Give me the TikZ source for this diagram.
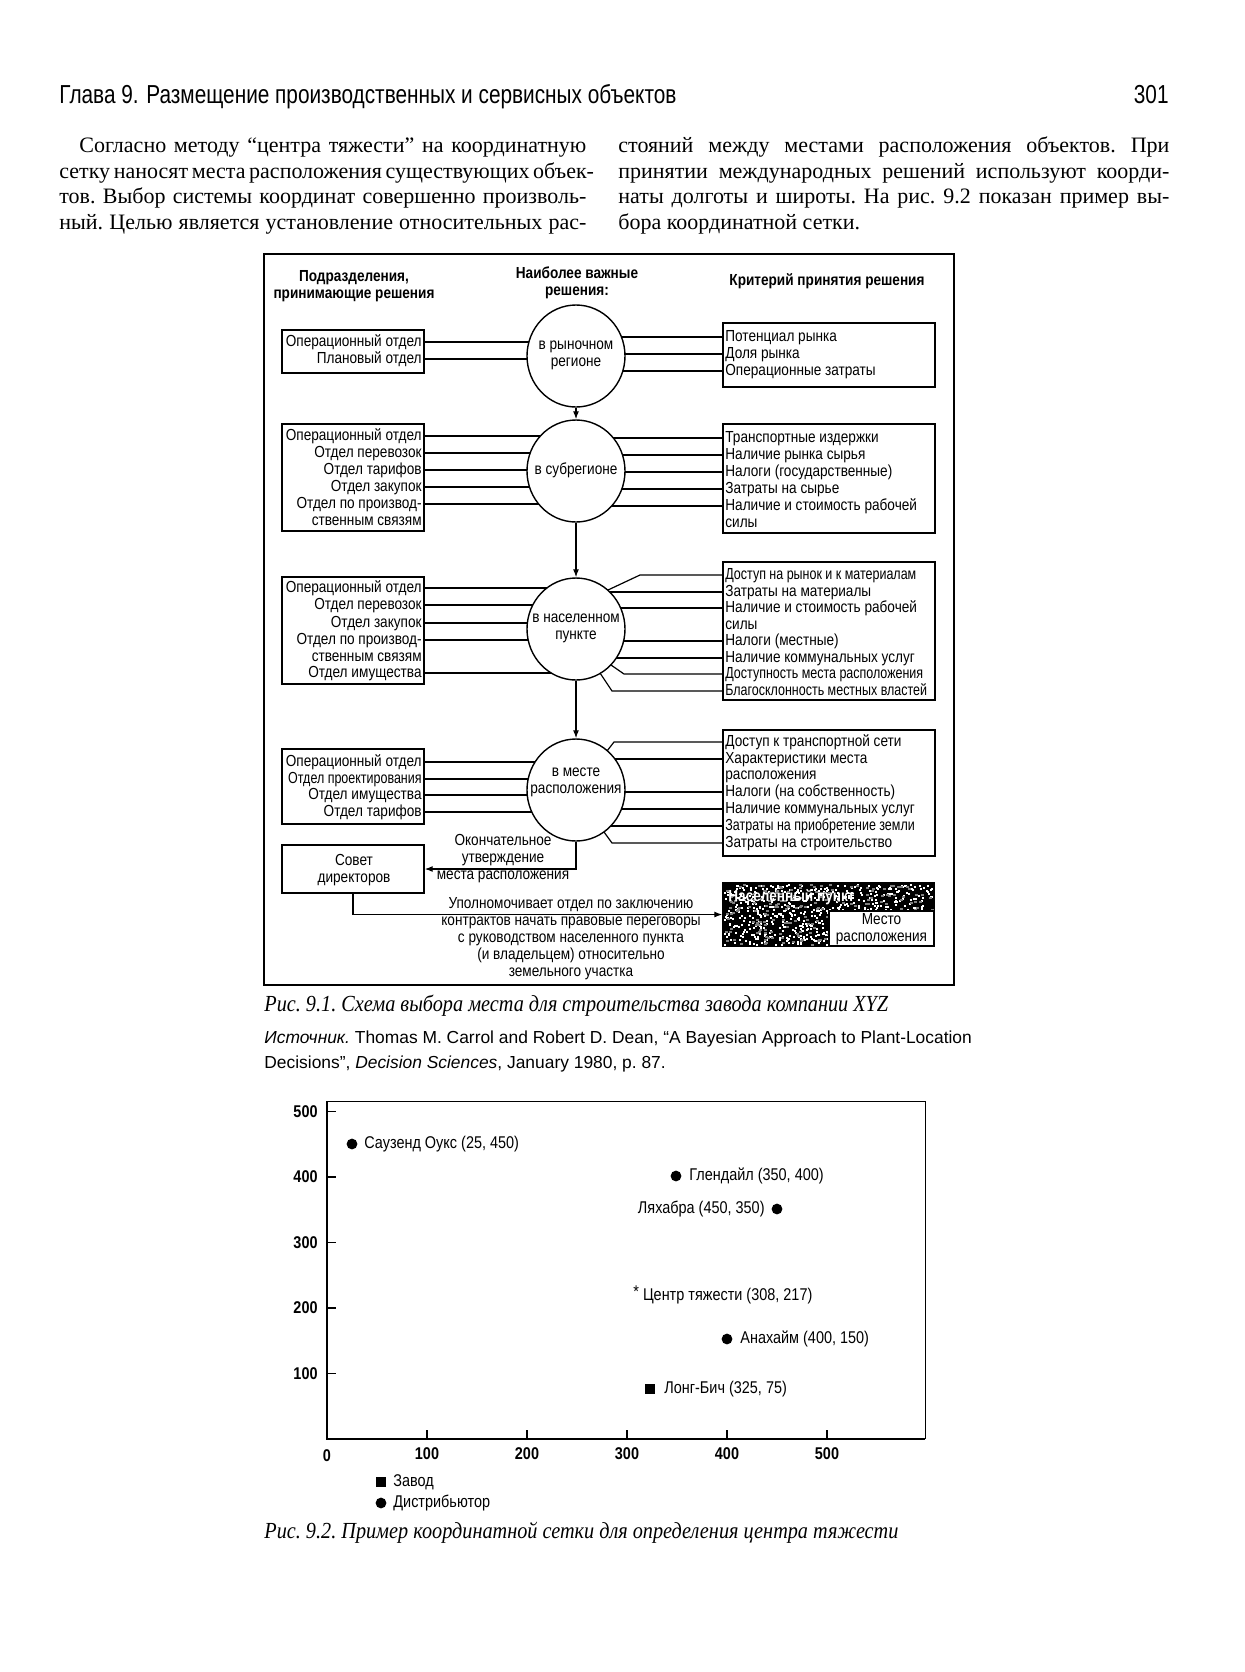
\documentclass[tikz,border=0pt]{standalone}
\usepackage{fontspec}
\setmainfont{Liberation Serif}
\newfontfamily\nar[FakeStretch=0.85]{Liberation Sans}
\newfontfamily\narr[FakeStretch=0.78]{Liberation Sans}
\newfontfamily\hdrf[FakeStretch=0.8]{Liberation Sans}
\newfontfamily\srcf{Liberation Sans}
\newfontfamily\capf[FakeStretch=0.88]{Liberation Serif}
\usetikzlibrary{shapes.geometric,arrows.meta,fit,calc}
\tikzset{
 box/.style={draw, line width=0.7pt, inner sep=0pt},
 dt/.style={font=\nar\fontsize{8}{8.5}\selectfont, inner sep=1pt, text height=5.9pt, text depth=1.7pt},
 dc/.style={font=\nar\fontsize{8}{8.5}\selectfont, inner sep=0pt, align=center},
 dh/.style={font=\nar\bfseries\fontsize{8}{8.3}\selectfont, align=center, inner sep=0pt},
 circ/.style={ellipse, draw, line width=0.7pt, minimum width=49pt, minimum height=51pt, inner sep=0pt},
 con/.style={line width=0.6pt},
 arr/.style={line width=0.6pt, -{Latex[length=4pt,width=3pt]}},
 body/.style={anchor=base west, inner sep=0pt, font=\frenchspacing\fontsize{11}{13}\selectfont},
 figcap/.style={anchor=base west, inner sep=0pt, font=\frenchspacing\capf\itshape\fontsize{11.5}{13}\selectfont},
 src/.style={anchor=base west, inner sep=0pt, font=\frenchspacing\srcf\fontsize{8.7}{10}\selectfont},
 pl/.style={font=\nar\fontsize{8.5}{9}\selectfont, inner sep=0pt},
 tk/.style={font=\nar\bfseries\fontsize{8.5}{9}\selectfont, inner sep=0pt},
 dot/.style={circle, fill, inner sep=0pt, minimum size=5.4pt},
 sq/.style={rectangle, fill, inner sep=0pt, minimum size=4.6pt},
}
\begin{document}
\begin{tikzpicture}[x=0.5pt,y=-0.5pt]
\useasboundingbox (0,0) rectangle (1244,1672);
\fill[white] (0,0) rectangle (1244,1672);

% page header
\node[anchor=base west, inner sep=0pt, font=\hdrf\fontsize{13}{15}\selectfont] (hd) at (59,103) {Глава 9. Размещение производственных и сервисных объектов};
\node[anchor=base east, inner sep=0pt, font=\hdrf\fontsize{13}{15}\selectfont] (pg) at (1169,103) {301};

% body text
\node[body] (b1) at (79,152) {\makebox[253.5pt][s]{Согласно методу “центра тяжести” на координатную}};
\node[body] (b2) at (59,178) {\makebox[263.5pt][s]{сетку наносят места расположения существующих объек-}};
\node[body] (b3) at (59,203) {\makebox[263.5pt][s]{тов. Выбор системы координат совершенно произволь-}};
\node[body] (b4) at (59,229) {\makebox[263.5pt][s]{ный. Целью является установление относительных рас-}};
\node[body] (b5) at (618,152) {\makebox[275.5pt][s]{стояний между местами расположения объектов. При}};
\node[body] (b6) at (618,178) {\makebox[275.5pt][s]{принятии международных решений используют коорди-}};
\node[body] (b7) at (618,203) {\makebox[275.5pt][s]{наты долготы и широты. На рис. 9.2 показан пример вы-}};
\node[body] (b8) at (618,229) {бора координатной сетки.};

% ================= Figure 9.1 =================
\draw[line width=0.7pt] (264,254) rectangle (954,985);

\node[dh] (h1) at (354,286) {Подразделения,\\принимающие решения};
\node[dh] (h2) at (577,283) {Наиболее важные\\решения:};
\node[dh] (h3) at (827,281) {Критерий принятия решения};

% circles
\node[circ] (C1) at (576,356) {};
\node[circ] (C2) at (576,471) {};
\node[circ] (C3) at (576,629) {};
\node[circ] (C4) at (576,790) {};
\node[dc] (c1t) at (576,355) {в рыночном\\регионе};
\node[dc] (c2t) at (576,470) {в субрегионе};
\node[dc] (c3t) at (576,628) {в населенном\\пункте};
\node[dc] (c4t) at (576,782) {в месте\\расположения};

% left boxes
\node[box, fit={(282,330) (424,373)}] (L1) {};
\node[box, fit={(282,424) (424,531)}] (L2) {};
\node[box, fit={(282,577) (424,684)}] (L3) {};
\node[box, fit={(282,749) (424,824)}] (L4) {};
\node[box, fit={(282,845) (424,893)}] (S) {};
\node[dc] (st) at (354,870) {Совет\\директоров};

\foreach \y/\t [count=\i] in {342/Операционный отдел, 359/Плановый отдел}
  \node[dt, anchor=east] (l1t\i) at (424,\y) {\t};
\foreach \y/\t [count=\i] in {436/Операционный отдел, 453/Отдел перевозок, 470/Отдел тарифов, 487/Отдел закупок, 504/Отдел по производ-, 521/ственным связям}
  \node[dt, anchor=east] (l2t\i) at (424,\y) {\t};
\foreach \y/\t [count=\i] in {588/Операционный отдел, 605/Отдел перевозок, 623/Отдел закупок, 640/Отдел по производ-, 657/ственным связям, 673/Отдел имущества}
  \node[dt, anchor=east] (l3t\i) at (424,\y) {\t};
\foreach \y/\t [count=\i] in {762/Операционный отдел, 779/{\narr Отдел проектирования}, 795/Отдел имущества, 812/Отдел тарифов}
  \node[dt, anchor=east] (l4t\i) at (424,\y) {\t};

% right boxes
\node[box, fit={(723,323) (935,387)}] (R1) {};
\node[box, fit={(723,424) (935,533)}] (R2) {};
\node[box, fit={(723,562) (935,700)}] (R3) {};
\node[box, fit={(723,730) (935,856)}] (R4) {};

\foreach \y/\t [count=\i] in {337/Потенциал рынка, 354/Доля рынка, 371/Операционные затраты}
  \node[dt, anchor=west] (r1t\i) at (723,\y) {\t};
\foreach \y/\t [count=\i] in {438/Транспортные издержки, 455/Наличие рынка сырья, 472/Налоги (государственные), 489/Затраты на сырье, 506/Наличие и стоимость рабочей, 523/силы}
  \node[dt, anchor=west] (r2t\i) at (723,\y) {\t};
\foreach \y/\t [count=\i] in {575/{\narr Доступ на рынок и к материалам}, 592/Затраты на материалы, 608/Наличие и стоимость рабочей, 625/силы, 641/Налоги (местные), 658/Наличие коммунальных услуг, 674/{\narr Доступность места расположения}, 691/{\narr Благосклонность местных властей}}
  \node[dt, anchor=west] (r3t\i) at (723,\y) {\t};
\foreach \y/\t [count=\i] in {742/Доступ к транспортной сети, 759/Характеристики места, 775/расположения, 792/Налоги (на собственность), 809/Наличие коммунальных услуг, 826/{\narr Затраты на приобретение земли}, 843/Затраты на строительство}
  \node[dt, anchor=west] (r4t\i) at (723,\y) {\t};

% left connectors (box -> circle boundary)
\foreach \y/\cy/\k in {342/356/1, 359/356/1,
    436/471/2, 453/471/2, 470/471/2, 487/471/2, 504/471/2,
    588/629/3, 605/629/3, 623/629/3, 640/629/3, 673/629/3,
    762/790/4, 779/790/4, 795/790/4, 812/790/4} {
  \pgfmathsetmacro\dx{49*sqrt(1-((\y-\cy)/51)^2)}
  \draw[con] (L\k.east |- 0,\y) -- ({576-\dx},\y);
}
% right connectors
\foreach \y/\cy/\k in {337/356/1, 354/356/1, 371/356/1,
    438/471/2, 455/471/2, 472/471/2, 489/471/2, 506/471/2,
    592/629/3, 608/629/3, 641/629/3, 658/629/3,
    759/790/4, 792/790/4, 809/790/4, 826/790/4} {
  \pgfmathsetmacro\dx{49*sqrt(1-((\y-\cy)/51)^2)}
  \draw[con] (R\k.west |- 0,\y) -- ({576+\dx},\y);
}
% bent connectors
\draw[con] (R3.west |- 0,575) -- (640,575) -- (608,590);
\draw[con] (R3.west |- 0,674) -- (624,674) -- (611,665);
\draw[con] (R3.west |- 0,691) -- (612,691) -- (600,673);
\draw[con] (R4.west |- 0,742) -- (614,742) -- (607,751);
\draw[con] (R4.west |- 0,843) -- (612,843) -- (604,832);

% flow arrows
\draw[arr] (C1.south) -- (C2.north);
\draw[arr] (C2.south) -- (C3.north);
\draw[arr] (C3.south) -- (C4.north);
\draw[arr] (C4.south) |- (S.east);
\node[dc] (fin) at (503,859) {Окончательное\\утверждение\\места расположения};

% settlement / site block
\node[box, fill=black, fit={(723,883) (934,946)}] (H) {};
\pgfmathsetseed{7}
\foreach \i in {1,...,700} {
  \fill[white] ({724+209*rnd},{884+60*rnd}) rectangle ++(2,2);
}
\foreach \i in {1,...,250} {
  \fill[gray] ({724+209*rnd},{884+60*rnd}) rectangle ++(3,2);
}
\node[dt, anchor=west, text=white, font=\nar\bfseries\fontsize{8}{8.5}\selectfont] (nas) at (726,897) {Населенный пункт};
\node[box, fill=white, fit={(829,911) (934,946)}] (M) {};
\node[dc] (mt) at (881.5,929) {Место\\расположения};

\draw[arr] (S.south) |- (H.west);
\node[dc, anchor=north] (auth) at (571,897) {Уполномочивает отдел по заключению\\контрактов начать правовые переговоры\\с руководством населенного пункта\\(и владельцем) относительно\\земельного участка};

% captions
\node[figcap] (cap1) at (264,1011) {Рис. 9.1. Схема выбора места для строительства завода компании XYZ};
\node[src] (s1) at (264,1043) {\itshape Источник.\upshape\ Thomas M. Carrol and Robert D. Dean, “A Bayesian Approach to Plant-Location};
\node[src] (s2) at (264,1068) {Decisions”, \itshape Decision Sciences\upshape, January 1980, p. 87.};

% ================= Figure 9.2 =================
\draw[line width=0.5pt] (327,1101) -- (925,1101) -- (925,1439);
\draw[line width=0.8pt] (327,1101) -- (327,1439) -- (925,1439);
\foreach \v in {100,200,300,400,500} {
  \draw[line width=0.7pt] (327,{1439-0.655*\v}) -- ++(9,0);
  \node[tk, anchor=east] (yl\v) at (318,{1439-0.655*\v}) {\v};
  \draw[line width=0.7pt] ({327+\v},1439) -- ++(0,-9);
  \node[tk] (xl\v) at ({327+\v},1454) {\v};
}
\node[tk] (xl0) at (327,1456) {0};

\node[dot] (so) at (352,1144) {};
\node[pl, anchor=west] (sol) at (364,1144) {Саузенд Оукс (25, 450)};
\node[dot] (gl) at (676,1176) {};
\node[pl, anchor=west] (gll) at (689,1176) {Глендайл (350, 400)};
\node[dot] (ly) at (777,1209) {};
\node[pl, anchor=east] (lyl) at (765,1209) {Ляхабра (450, 350)};
\node[pl, anchor=west] (cgl) at (633,1295) {\raisebox{1.5pt}{*} Центр тяжести (308, 217)};
\node[dot] (an) at (727,1339) {};
\node[pl, anchor=west] (anl) at (740,1339) {Анахайм (400, 150)};
\node[sq] (lb) at (650,1389) {};
\node[pl, anchor=west] (lbl) at (664,1389) {Лонг-Бич (325, 75)};

\node[sq] (lg1) at (381,1482) {};
\node[pl, anchor=west] (lg1t) at (393,1482) {Завод};
\node[dot] (lg2) at (381,1503) {};
\node[pl, anchor=west] (lg2t) at (393,1503) {Дистрибьютор};

\node[figcap] (cap2) at (264,1538) {Рис. 9.2. Пример координатной сетки для определения центра тяжести};
\end{tikzpicture}
\end{document}
